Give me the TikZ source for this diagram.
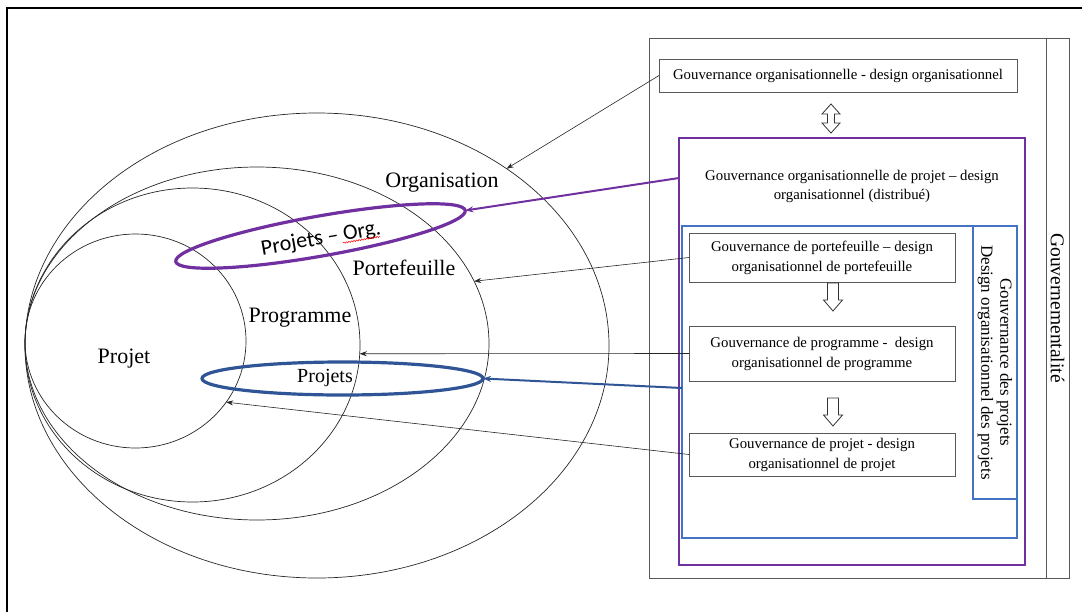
\documentclass[tikz,border=0pt]{standalone}
\usepackage{fontspec}
\setmainfont{Liberation Serif}
\newfontfamily\calib{Carlito}
\usetikzlibrary{shapes.geometric,arrows.meta,calc,decorations.pathmorphing}
\definecolor{violetline}{HTML}{7030A0}
\definecolor{bleuline}{HTML}{2F5597}
\definecolor{bleucadre}{HTML}{4472C4}
\definecolor{grisbord}{HTML}{595959}

\tikzset{
  zone/.style={ellipse, draw=black!85, line width=0.7pt, inner sep=0pt, outer sep=0pt},
  boite/.style={draw=grisbord, line width=0.9pt, inner sep=0pt, outer sep=0pt,
    align=center, font=\fontsize{14.8}{20}\selectfont},
  cadre/.style={inner sep=0pt, outer sep=0pt},
  etiq/.style={font=\fontsize{22}{24}\selectfont},
  lien/.style={-{Stealth[length=7pt,width=5pt]}, line width=0.6pt, black!85},
  lienv/.style={-{Stealth[length=8pt,width=6pt]}, line width=2pt, violetline},
  lienb/.style={-{Stealth[length=8pt,width=6pt]}, line width=2pt, bleuline},
  fleche/.style={draw=black!80, line width=0.8pt, fill=white},
  pics/flechebas/.style={code={
    \draw[fleche] (-5.5,0) -- (-5.5,17) -- (-9.5,17) -- (0,28) -- (9.5,17)
      -- (5.5,17) -- (5.5,0) -- cycle;}},
  pics/flechedouble/.style={code={
    \draw[fleche] (0,-14.5) -- (9,-4.5) -- (3.5,-4.5) -- (3.5,4.5) -- (9,4.5)
      -- (0,14.5) -- (-9,4.5) -- (-3.5,4.5) -- (-3.5,-4.5) -- (-9,-4.5) -- cycle;}}
}

\begin{document}
\begin{tikzpicture}[x=1pt,y=-1pt]
\useasboundingbox (0,0) rectangle (1082,611);
\clip (0,0) rectangle (1082,611);

% page frame
\draw[line width=1.8pt] (1095,8) -- (7,8) -- (7,625);

% nested zones
\node[zone, minimum width=584, minimum height=465] (org)  at (317,345.5) {};
\node[zone, minimum width=464, minimum height=353] (port) at (257,343.5) {};
\node[zone, minimum width=335, minimum height=314] (prog) at (192.5,345) {};
\node[zone, minimum width=221, minimum height=214] (proj) at (135.5,341) {};

\node[etiq] at (442,183) {Organisation};
\node[etiq] at (404,268) {Portefeuille};
\node[etiq] at (300,318) {Programme};
\node[etiq] at (124,359) {Projet};

% project groupings
\node[ellipse, draw=violetline, line width=3.2pt, minimum width=294, minimum height=40,
      rotate=10, cadre] (porg) at (320.5,236) {};
\node[rotate=10, font=\calib\fontsize{22}{24}\selectfont] (tporg) at (321,239) {Projets – Org.};
\draw[red, line width=0.5pt, decorate,
      decoration={snake, amplitude=0.7pt, segment length=2.6pt}] (343,243) -- (380,236.5);

\node[ellipse, draw=bleuline, line width=3.2pt, minimum width=281, minimum height=33, cadre]
      (pb) at (342.5,378.5) {};
\node[font=\fontsize{20}{22}\selectfont] at (325,378) {Projets};

% governance panel
\node[draw=grisbord, line width=0.9pt, minimum width=420, minimum height=540, cadre]
      (gouv) at (859,308) {};
\draw[grisbord, line width=0.9pt] ([xshift=-23pt]gouv.north east) -- ([xshift=-23pt]gouv.south east);
\node[rotate=-90, font=\fontsize{19.5}{22}\selectfont] at (1057.5,308) {Gouvernementalité};

\node[boite, minimum width=358, minimum height=33] (bo) at (838,75.5)
  {Gouvernance organisationnelle - design organisationnel};

\node[draw=violetline, line width=2.5pt, minimum width=346, minimum height=427, cadre]
      (bv) at (852,351.5) {};
\node[align=center, font=\fontsize{14.8}{19}\selectfont] (tv) at (852,186)
  {Gouvernance organisationnelle de projet – design\\organisationnel (distribué)};

\node[draw=bleucadre, line width=1.2pt, minimum width=335, minimum height=312, cadre]
      (bb) at (849.5,382) {};
\node[draw=bleucadre, line width=1.2pt, rotate=-90, minimum width=273, minimum height=44,
      cadre, align=center, font=\fontsize{17}{19}\selectfont] (bs) at (995,362.5)
  {Gouvernance des projets\\Design organisationnel des projets};

\node[boite, minimum width=266, minimum height=49] (bpf) at (822,257.5)
  {Gouvernance de portefeuille – design\\organisationnel de portefeuille};
\node[boite, minimum width=266, minimum height=55] (bpg) at (822,353.5)
  {Gouvernance de programme -\ \ design\\organisationnel de programme};
\node[boite, minimum width=266, minimum height=43] (bpj) at (822,454.5)
  {Gouvernance de projet - design\\organisationnel de projet};

% hollow arrows between levels
\pic at ([xshift=-7pt,yshift=-26.5pt]bo.south) {flechedouble};
\pic at ([xshift=11pt,yshift=-1pt]bpf.south) {flechebas};
\pic at ([xshift=11pt,yshift=-17pt]bpg.south) {flechebas};

% connectors from the panel to the zones
\draw[lien]  (bo.west) -- (org.43);
\draw[lienv] ([yshift=-40pt]bv.north west) -- (porg.east);
\draw[lien]  (bpf.west) -- (port.16);
\draw[lien]  (bpg.west) -- (prog.-3);
\draw[lienb] ([yshift=-162pt]bb.north west) -- (pb.east);
\draw[lien]  (bpj.west) -- (proj.-34);
\end{tikzpicture}
\end{document}
